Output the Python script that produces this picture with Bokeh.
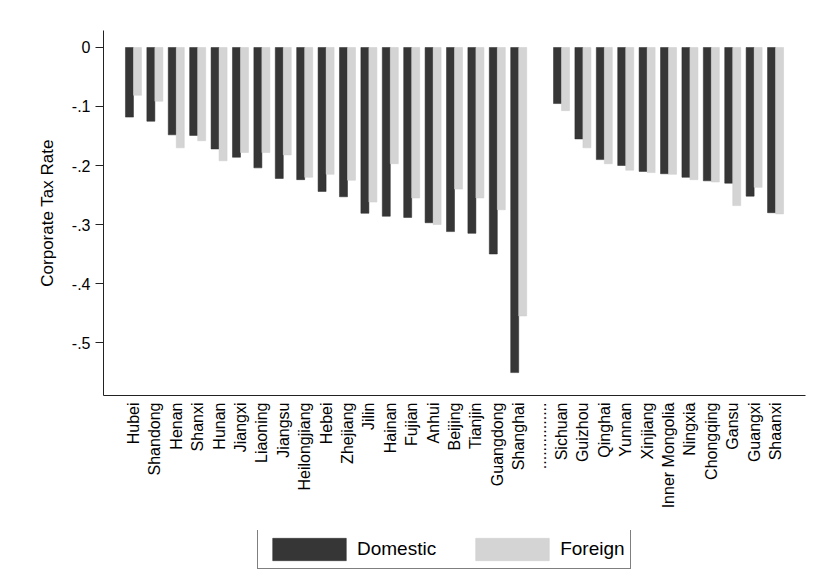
from bokeh.plotting import figure
from bokeh.models import FactorRange, FixedTicker, ColumnDataSource, Legend
from bokeh.transform import dodge
from bokeh.layouts import column
from bokeh.embed import file_html
from bokeh.resources import INLINE
import math

FONT = "Liberation Sans"

coastal = ["Hubei", "Shandong", "Henan", "Shanxi", "Hunan", "Jiangxi", "Liaoning",
           "Jiangsu", "Heilongjiang", "Hebei", "Zhejiang", "Jilin", "Hainan", "Fujian",
           "Anhui", "Beijing", "Tianjin", "Guangdong", "Shanghai"]
separator = "..............."
western = ["Sichuan", "Guizhou", "Qinghai", "Yunnan", "Xinjiang", "Inner Mongolia",
           "Ningxia", "Chongqing", "Gansu", "Guangxi", "Shaanxi"]

domestic_coastal = [-0.118, -0.125, -0.148, -0.149, -0.172, -0.186, -0.204, -0.222, -0.224,
                    -0.244, -0.253, -0.281, -0.286, -0.288, -0.297, -0.312, -0.315, -0.350, -0.551]
foreign_coastal = [-0.081, -0.091, -0.170, -0.158, -0.192, -0.178, -0.178, -0.182, -0.220,
                   -0.215, -0.225, -0.262, -0.197, -0.255, -0.300, -0.240, -0.255, -0.275, -0.455]
domestic_western = [-0.095, -0.155, -0.190, -0.200, -0.210, -0.214, -0.220, -0.226, -0.230, -0.252, -0.280]
foreign_western = [-0.107, -0.170, -0.197, -0.208, -0.212, -0.215, -0.224, -0.228, -0.268, -0.237, -0.282]

y_ticks = [0, -0.1, -0.2, -0.3, -0.4, -0.5]
y_tick_labels = ["0", "-.1", "-.2", "-.3", "-.4", "-.5"]

provinces = coastal + western
domestic = domestic_coastal + domestic_western
foreign = foreign_coastal + foreign_western
factors = coastal + [separator] + western

src = ColumnDataSource(dict(prov=provinces, dom=domestic, fgn=foreign))

DARK_FILL, DARK_LINE = "#363636", "#2a2a2a"
LIGHT_FILL, LIGHT_LINE = "#d4d4d4", "#cccccc"
bw = 0.374

p = figure(width=806, height=530, output_backend="svg", toolbar_location=None,
           x_range=FactorRange(factors=factors, range_padding=0.9, range_padding_units="absolute"),
           y_range=(-0.5898, 0.0288),
           min_border_left=103, min_border_right=1, min_border_top=30, min_border_bottom=135)
p.outline_line_color = None
p.background_fill_color = "white"
p.border_fill_color = "white"
p.xgrid.visible = False
p.ygrid.visible = False

p.vbar(x=dodge("prov", -0.187, range=p.x_range), top="dom", bottom=0, width=bw, source=src,
       fill_color=DARK_FILL, line_color=DARK_LINE, line_width=0.5)
p.vbar(x=dodge("prov", 0.187, range=p.x_range), top="fgn", bottom=0, width=bw, source=src,
       fill_color=LIGHT_FILL, line_color=LIGHT_LINE, line_width=0.5)

ya = p.yaxis[0]
ya.ticker = FixedTicker(ticks=y_ticks)
ya.major_label_overrides = {t: l for t, l in zip(y_ticks, y_tick_labels)}
ya.axis_label = "Corporate Tax Rate"
ya.axis_label_text_font = FONT
ya.axis_label_text_font_size = "17px"
ya.axis_label_text_font_style = "normal"
ya.axis_label_text_color = "black"
ya.axis_label_standoff = 12
ya.major_label_text_font = FONT
ya.major_label_text_font_size = "16px"
ya.major_label_text_color = "black"
ya.major_label_standoff = 5
ya.major_tick_out = 8
ya.major_tick_in = 0
ya.minor_tick_out = 0
ya.minor_tick_in = 0
ya.axis_line_color = "#222222"
ya.major_tick_line_color = "#222222"

xa = p.xaxis[0]
xa.major_label_orientation = math.pi / 2
xa.major_label_text_font = FONT
xa.major_label_text_font_size = "16px"
xa.major_label_text_color = "black"
xa.major_label_standoff = 7
xa.major_tick_out = 0
xa.major_tick_in = 0
xa.minor_tick_out = 0
xa.axis_line_color = "#222222"

# legend strip below the chart (bars of this strip fall outside its view)
q = figure(width=806, height=40, output_backend="svg", toolbar_location=None,
           x_range=FactorRange(factors=factors), y_range=(1, 2),
           x_axis_location=None, y_axis_location=None,
           min_border_left=0, min_border_right=0, min_border_top=0, min_border_bottom=0)
q.xgrid.visible = False
q.ygrid.visible = False
q.outline_line_color = None
q.background_fill_color = "white"
q.border_fill_color = "white"
l1 = q.vbar(x="prov", top="dom", bottom=0, width=bw, source=src,
            fill_color=DARK_FILL, line_color=DARK_LINE, line_width=0.5)
l2 = q.vbar(x="prov", top="fgn", bottom=0, width=bw, source=src,
            fill_color=LIGHT_FILL, line_color=LIGHT_LINE, line_width=0.5)

legend = Legend(items=[("Domestic", [l1]), ("Foreign", [l2])], orientation="horizontal",
                location=(154, 1), padding=5, spacing=30, margin=0,
                glyph_width=92, glyph_height=28, label_standoff=2,
                label_text_font=FONT, label_text_font_size="19px", label_text_color="black",
                border_line_color="black", border_line_width=1, background_fill_color="white",
                background_fill_alpha=1.0)
q.add_layout(legend, "center")

layout = column(p, q, spacing=0)
open("out.html", "w").write(file_html(layout, INLINE))
